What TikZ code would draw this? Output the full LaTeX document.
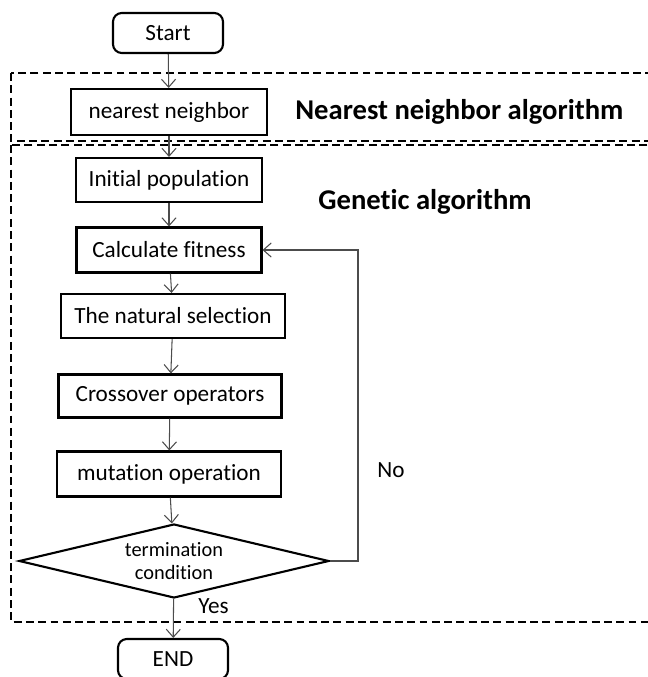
\documentclass[tikz,border=0pt]{standalone}
\usepackage{fontspec}
\setmainfont{Carlito}[Ligatures=NoCommon]
\usetikzlibrary{shapes.geometric,arrows.meta}

\tikzset{
  stepbox/.style={draw,line width=1.2pt,inner sep=0pt,font=\fontsize{13.2}{15}\selectfont},
  termbox/.style={stepbox,rounded corners=5pt,minimum width=2.2cm,minimum height=0.8cm},
  condbox/.style={draw,diamond,shape aspect=4.2,line width=1.2pt,inner sep=0pt,align=center,
    minimum width=6.2cm,minimum height=1.48cm,font=\fontsize{11.6}{13}\selectfont},
  flow/.style={->,draw=black!70,line width=0.6pt},
  frame/.style={dashed,dash pattern=on 4.5pt off 2.5pt,line width=1.1pt},
  part/.style={anchor=west,inner sep=0pt,font=\fontsize{16.3}{18}\selectfont\bfseries},
  answer/.style={anchor=west,inner sep=0pt,font=\fontsize{13.2}{15}\selectfont}
}

\begin{document}
\begin{tikzpicture}[x=0.02cm,y=-0.02cm,>={Straight Barb[length=4.5pt,width=8pt]}]
    \useasboundingbox (0,0) rectangle (648,677);
    % Dashed frames
    \begin{scope}
      \clip (0,0) rectangle (648,677);
      \draw[frame] (11,73) rectangle (670,141);
      \draw[frame] (11,145) rectangle (670,622);
    \end{scope}
    \node[part] (nnlabel) at (295,112) {Nearest neighbor algorithm};
    \node[part] (galabel) at (318,202) {Genetic algorithm};
    % Steps
    \node[termbox] (start) at (168,33) {Start};
    \node[stepbox,minimum width=3.92cm,minimum height=0.92cm] (nn) at (169,112) {nearest neighbor};
    \node[stepbox,minimum width=3.72cm,minimum height=0.88cm] (init) at (169,180) {Initial population};
    \node[stepbox,minimum width=3.70cm,minimum height=0.90cm] (fit) at (169,250) {Calculate fitness};
    \node[stepbox,minimum width=4.48cm,minimum height=0.88cm] (sel) at (173,316) {The natural selection};
    \node[stepbox,minimum width=4.46cm,minimum height=0.86cm] (cross) at (170,396) {Crossover operators};
    \node[stepbox,minimum width=4.48cm,minimum height=0.90cm] (mut) at (169,474) {mutation operation};
    \node[condbox] (cond) at (174,561) {termination\\condition};
    \node[termbox] (end) at (173,659) {END};
    % Arrows
    \draw[flow] (start) -- (nn);
    \draw[flow] (nn) -- (init);
    \draw[flow] (init) -- (fit);
    \draw[flow] (fit) -- (sel);
    \draw[flow] (sel) -- (cross);
    \draw[flow] (cross) -- (mut);
    \draw[flow] (mut) -- (cond);
    \draw[flow] (cond) -- (end);
    % Loop back
    \coordinate (back) at (358,561);
    \draw[flow] (cond.east) -- (back) |- (fit.east);
    \node[answer] (no) at (377,470) {No};
    \node[answer] (yes) at (198,606) {Yes};
\end{tikzpicture}
\end{document}
